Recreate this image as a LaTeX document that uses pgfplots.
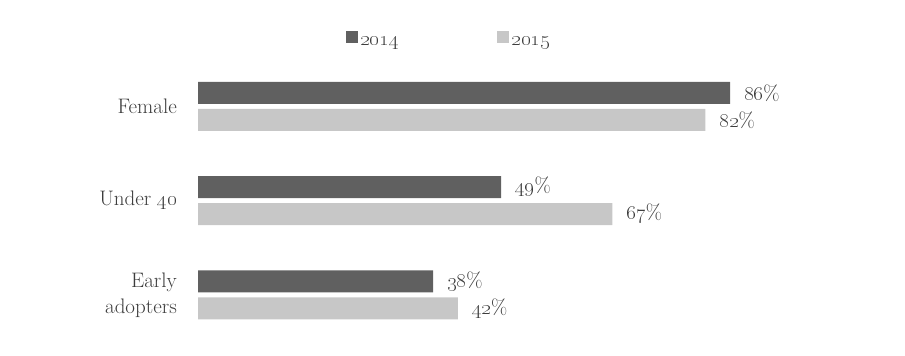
\documentclass[border=0pt]{standalone}
\usepackage{pgfplots}
\pgfplotsset{compat=1.18}
\definecolor{dark}{RGB}{96,96,96}
\definecolor{light}{RGB}{199,199,199}
\definecolor{txt}{RGB}{60,60,60}
\begin{document}
\begin{tikzpicture}
\useasboundingbox (0,0) rectangle (905pt,356pt);
\begin{axis}[
  at={(198pt,14pt)}, anchor=south west,
  scale only axis, width=618.6pt, height=282.75pt,
  xmin=0, xmax=100, ymin=-0.5, ymax=2.5,
  xbar, bar width=22pt,
  axis line style={draw=none},
  xtick=\empty,
  ytick={0,1,2},
  yticklabels={Early\\adopters, Under \oldstylenums{40}, Female},
  major tick length=0pt,
  yticklabel style={align=right, inner sep=0pt, xshift=-21pt,
    font=\fontsize{21}{26}\selectfont, text=txt},
  clip=false,
  nodes near coords={\oldstylenums{\pgfmathprintnumber[assume math mode=true]{\pgfplotspointmeta}}\%},
  every node near coord/.append style={anchor=west, inner sep=0pt, xshift=14pt,
    font=\fontsize{21}{24}\selectfont, text=txt},
  legend columns=2,
  legend style={at={(0.406,1.068)}, anchor=center, draw=none, fill=none,
    font=\fontsize{21}{24}\selectfont, text=txt,
    /tikz/every even column/.append style={column sep=96pt},
    nodes={inner sep=2.5pt}},
  legend image code/.code={\fill[#1] (0pt,-1pt) rectangle (12pt,11pt);},
]
\addplot[fill=dark, draw=none, bar shift=13.5pt] coordinates {(38,0) (49,1) (86,2)};
\addplot[fill=light, draw=none, bar shift=-13.5pt] coordinates {(42,0) (67,1) (82,2)};
\legend{\oldstylenums{2014}, \oldstylenums{2015}}
\end{axis}
\end{tikzpicture}
\end{document}
